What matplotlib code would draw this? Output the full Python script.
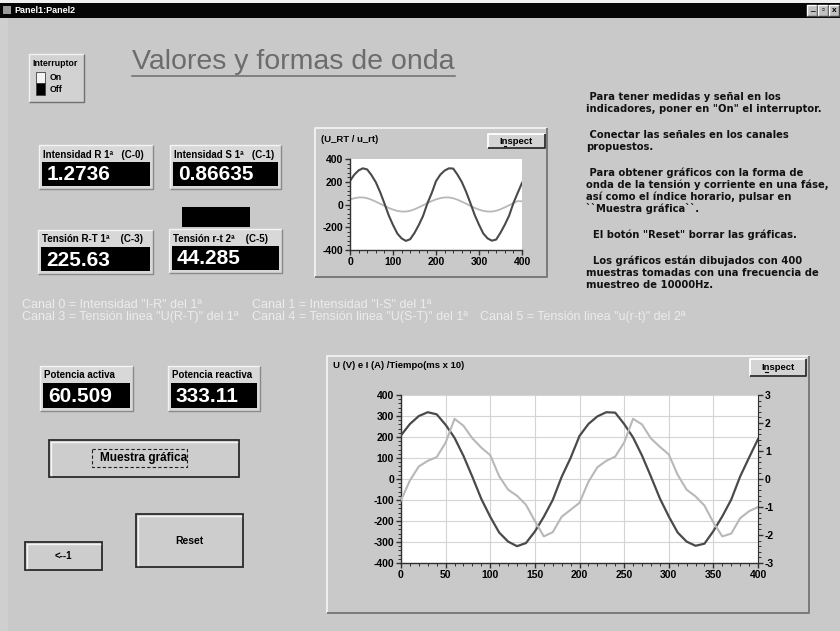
import matplotlib
matplotlib.use("Agg")
import matplotlib.pyplot as plt
from matplotlib.patches import Rectangle
from matplotlib.ticker import MultipleLocator

plt.rcParams["font.family"] = ["Liberation Sans", "DejaVu Sans"]
plt.rcParams["axes.unicode_minus"] = False

W, H = 840, 631

# samples (x axis of both graphs)
muestras = list(range(0, 410, 10))

# U_RT (V) - dark trace, same in both graphs
tension_rt = [208, 262, 300, 318, 308, 258, 196, 110, 10, -95,
              -180, -255, -298, -320, -305, -250, -180, -100, 10, 100,
              205, 262, 298, 318, 316, 262, 198, 112, 12, -92,
              -178, -255, -298, -318, -308, -248, -178, -98, 12, 102,
              190]
# I (A) - light trace in the big graph (right axis)
intensidad_r = [-0.76, -0.05, 0.45, 0.65, 0.78, 1.30, 2.15, 1.90, 1.45, 1.12,
                0.85, 0.10, -0.38, -0.60, -0.92, -1.50, -2.05, -1.90, -1.35, -1.10,
                -0.85, -0.10, 0.42, 0.65, 0.80, 1.30, 2.15, 1.95, 1.45, 1.15,
                0.88, 0.15, -0.38, -0.62, -0.95, -1.55, -2.05, -1.95, -1.40, -1.15,
                -1.00]
# u_rt (V) - light trace in the small graph
tension_rt2 = [45, 55, 62, 62, 55, 42, 25, 7, -12, -30,
               -45, -56, -62, -62, -55, -42, -25, -7, 12, 30,
               45, 56, 62, 62, 55, 42, 25, 7, -12, -30,
               -45, -56, -62, -62, -55, -42, -25, -7, 12, 30,
               28]

etiquetas = ["Intensidad R 1ª   (C-0)", "Intensidad S 1ª   (C-1)",
             "Tensión R-T 1ª    (C-3)", "Tensión r-t 2ª    (C-5)",
             "Potencia activa", "Potencia reactiva"]
valores = ["1.2736", "0.86635", "225.63", "44.285", "60.509", "333.11"]

# help paragraphs
ayuda = [[" Para tener medidas y señal en los",
          "indicadores, poner en \"On\" el interruptor."],
         [" Conectar las señales en los canales",
          "propuestos."],
         [" Para obtener gráficos con la forma de",
          "onda de la tensión y corriente en una fáse,",
          "así como el índice horario, pulsar en",
          "``Muestra gráfica``."],
         ["  El botón \"Reset\" borrar las gráficas."],
         ["  Los gráficos están dibujados con 400",
          "muestras tomadas con una frecuencia de",
          "muestreo de 10000Hz."]]

canales = [["Canal 0 = Intensidad \"I-R\" del 1ª", "Canal 1 = Intensidad \"I-S\" del 1ª", ""],
           ["Canal 3 = Tensión linea \"U(R-T)\" del 1ª", "Canal 4 = Tensión linea \"U(S-T)\" del 1ª",
            "Canal 5 = Tensión linea \"u(r-t)\" del 2ª"]]

BG = "#c9c9c9"

fig = plt.figure(figsize=(W / 100, H / 100), dpi=100, facecolor=BG)
bg = fig.add_axes([0, 0, 1, 1])
bg.set_xlim(0, W)
bg.set_ylim(H, 0)
bg.axis("off")


def rect(x0, y0, x1, y1, face, edge="none", lw=1.0, ls="-", z=1):
    bg.add_patch(Rectangle((x0, y0), x1 - x0, y1 - y0, facecolor=face,
                           edgecolor=edge, lw=lw, ls=ls, zorder=z))


def bevel(x0, y0, x1, y1, face, light="#f2f2f2", dark="#707070", lw=1.0, z=1):
    rect(x0, y0, x1, y1, face, z=z)
    bg.plot([x0, x0, x1], [y1, y0, y0], color=light, lw=lw, zorder=z + 0.1,
            solid_capstyle="butt")
    bg.plot([x0, x1, x1], [y1, y1, y0], color=dark, lw=lw, zorder=z + 0.1,
            solid_capstyle="butt")


def px_axes(x0, y0, x1, y1):
    return fig.add_axes([x0 / W, 1 - y1 / H, (x1 - x0) / W, (y1 - y0) / H])


# window frame and title bar
rect(0, 0, W, 3, "#f0f0f0")
rect(0, 3, 8, H, "#cfcfcf")
rect(0, 3, W, 18, "#050505")
rect(3, 6, 11, 14, "#9a9a9a")
bg.text(14, 10.5, "Panel1:Panel2", color="white", fontsize=6.5,
        fontweight="bold", va="center")
for x in [807, 818, 829]:
    bevel(x, 5, x + 10, 16, "#c0c0c0", light="#ffffff", dark="#404040")
bg.text(812, 13, "_", fontsize=6, fontweight="bold", ha="center", va="bottom")
bg.text(823, 10.5, "▫", fontsize=6, ha="center", va="center")
bg.text(834, 10.5, "x", fontsize=6, fontweight="bold", ha="center", va="center")

# switch
bevel(29, 54, 84, 102, "#d2d2d2")
bg.text(32, 63, "Interruptor", fontsize=6.3, fontweight="bold", va="center")
rect(36, 72, 45, 83, "#f4f4f4", edge="#404040", lw=0.6)
rect(36, 83, 45, 95, "#000000", edge="#404040", lw=0.6)
bg.text(50, 77.5, "On", fontsize=6.3, fontweight="bold", va="center")
bg.text(50, 89.5, "Off", fontsize=6.3, fontweight="bold", va="center")

# title
bg.text(132, 62, "Valores y formas de onda", fontsize=20.5, color="#6c6c6c",
        va="center", ha="left")
bg.plot([132, 455], [76, 76], color="#6c6c6c", lw=1.1)

# numeric indicators
cajas = [(39, 145, 153, 189), (170, 145, 281, 189), (38, 230, 153, 274),
         (169, 229, 282, 273), (40, 366, 133, 411), (168, 366, 260, 411)]
for (x0, y0, x1, y1), lab, val in zip(cajas, etiquetas, valores):
    bevel(x0, y0, x1, y1, "#d8d8d8", light="#f4f4f4", dark="#8a8a8a")
    rect(x0 + 3, y0 + 17, x1 - 3, y1 - 3, "#000000")
    bg.text(x0 + 4, y0 + 9.5, lab, fontsize=7.0, fontweight="bold", va="center")
    bg.text(x0 + 8, (y0 + y1 + 14) / 2 + 1, val, fontsize=15, color="white",
            fontweight="bold", va="center")
rect(182, 207, 250, 227, "#000000")

# help text
yy = 97
for par in ayuda:
    for line in par:
        bg.text(586, yy, line, fontsize=7.2, fontweight="bold", va="center",
                color="#111111", family="DejaVu Sans")
        yy += 12
    yy += 14

# channel text
for row, yrow in zip(canales, [305, 317]):
    for txt, x in zip(row, [22, 252, 480]):
        if txt:
            bg.text(x, yrow, txt, fontsize=9, color="#ececec", va="center")


# buttons
def button(x0, y0, x1, y1, label, fs=7.5):
    rect(x0, y0, x1, y1, "#cdcdcd", edge="#2a2a2a", lw=1.3)
    bg.plot([x0 + 2, x0 + 2, x1 - 2], [y1 - 2, y0 + 2, y0 + 2], color="#f4f4f4",
            lw=1.0)
    bg.text((x0 + x1) / 2, (y0 + y1) / 2, label, fontsize=fs, fontweight="bold",
            ha="center", va="center")


button(49, 440, 239, 477, "Muestra gráfica", fs=8.5)
rect(92, 449, 187, 467, "none", edge="#222222", lw=0.8, ls=(0, (3, 2)), z=3)
button(136, 514, 243, 567, "Reset")
button(25, 542, 102, 570, "<--1", fs=7)


def inspect(x0, y0, x1, y1):
    bevel(x0, y0, x1, y1, "#d4d4d4", light="#ffffff", dark="#303030", lw=1.3)
    cx, cy = (x0 + x1) / 2, (y0 + y1) / 2
    bg.text(cx, cy, "Inspect", fontsize=6.8, fontweight="bold",
            ha="center", va="center")
    bg.plot([cx - 13, cx - 10.5], [cy + 4.5] * 2, color="black", lw=0.8)


# graph panels
bevel(315, 128, 547, 277, BG, light="#f0f0f0", dark="#7a7a7a", lw=1.4)
bg.text(321, 140, "(U_RT / u_rt)", fontsize=6.8, fontweight="bold", va="center")
inspect(488, 134, 545, 148)

bevel(327, 356, 809, 613, BG, light="#f0f0f0", dark="#7a7a7a", lw=1.4)
bg.text(333, 366, "U (V) e I (A) /Tiempo(ms x 10)", fontsize=6.8,
        fontweight="bold", va="center")
inspect(750, 359, 806, 376)

DARK = "#4a4a4a"
LIGHT = "#b8b8b8"


def ticks(ax):
    ax.tick_params(which="major", direction="out", length=3.5, width=1,
                   color="#303030", pad=1.5, labelsize=7.5)
    ax.tick_params(which="minor", direction="out", length=2, width=0.7,
                   color="#303030")
    for lab in ax.get_xticklabels() + ax.get_yticklabels():
        lab.set_fontweight("bold")


def style(ax):
    ax.set_facecolor("white")
    for s in ["top", "right"]:
        ax.spines[s].set_visible(False)
    for s in ["left", "bottom"]:
        ax.spines[s].set_color("#303030")
        ax.spines[s].set_linewidth(1.0)
    ticks(ax)


# small graph
axs = px_axes(350, 159, 522, 250)
axs.plot(muestras, tension_rt2, color=LIGHT, lw=1.3)
axs.plot(muestras, tension_rt, color=DARK, lw=1.5)
axs.set_xlim(0, 400)
axs.set_ylim(-400, 400)
axs.xaxis.set_major_locator(MultipleLocator(100))
axs.xaxis.set_minor_locator(MultipleLocator(20))
axs.yaxis.set_major_locator(MultipleLocator(200))
axs.yaxis.set_minor_locator(MultipleLocator(40))
style(axs)

# big graph
axb = px_axes(401, 395, 758, 563)
axb.plot(muestras, tension_rt, color=DARK, lw=1.6, zorder=3)
axb.set_xlim(0, 400)
axb.set_ylim(-400, 400)
axb.xaxis.set_major_locator(MultipleLocator(50))
axb.xaxis.set_minor_locator(MultipleLocator(10))
axb.yaxis.set_major_locator(MultipleLocator(100))
axb.yaxis.set_minor_locator(MultipleLocator(20))
axb.grid(True, which="major", color="#d4d4d4", lw=0.8)
style(axb)

ax2 = axb.twinx()
ax2.plot(muestras, intensidad_r, color=LIGHT, lw=1.5)
ax2.set_ylim(-3, 3)
ax2.yaxis.set_major_locator(MultipleLocator(1))
ax2.yaxis.set_minor_locator(MultipleLocator(0.2))
for s in ["top", "left", "bottom"]:
    ax2.spines[s].set_visible(False)
ax2.spines["right"].set_color("#303030")
ticks(ax2)

fig.savefig("out.png", dpi=100, facecolor=BG)
